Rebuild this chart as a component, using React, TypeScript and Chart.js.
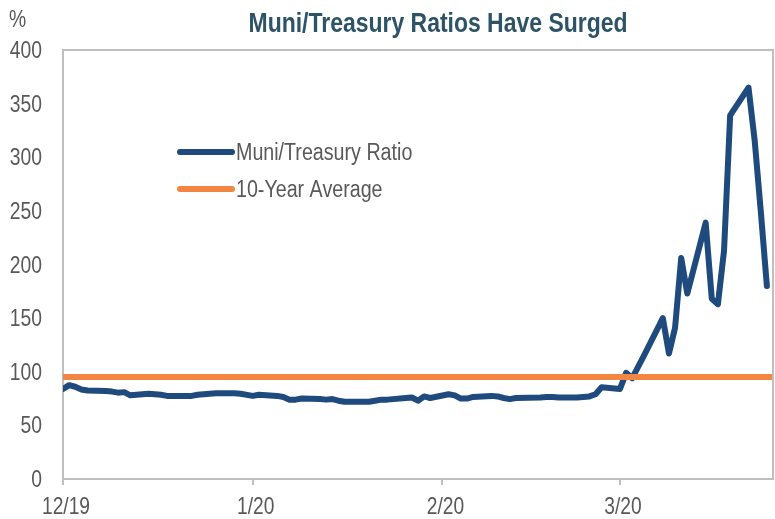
import React, { useEffect, useRef } from "react";
import { Chart, registerables } from "chart.js";

Chart.register(...registerables);

const title = "Muni/Treasury Ratios Have Surged";
const yUnit = "%";
const seriesLabel = "Muni/Treasury Ratio";
const averageLabel = "10-Year Average";

// day offsets (business days, starting at the first observation, Dec 2019)
const dayOffsets = [
  0, 1, 2, 3, 4, 7, 8, 9, 10, 11, 14, 15, 16, 17, 18, 21, 22, 24, 25, 28, 29,
  31, 32, 35, 36, 37, 38, 39, 42, 43, 44, 45, 46, 50, 51, 52, 53, 56, 57, 58, 59, 60,
  63, 64, 65, 66, 67, 70, 71, 72, 73, 74, 78, 79, 80, 81, 84, 85, 86, 87, 88,
  91, 92, 93, 94, 95, 98, 99, 100, 101, 102, 105, 106, 107, 108, 109, 112, 113, 114, 115,
];

const ratioValues = [
  84, 87.5, 86, 83.5, 82.5, 82, 81.5, 80.5, 81, 78, 79.5, 79, 78.5, 77.5, 77.5, 77.5, 78.5, 79.5, 80, 80, 79.5,
  77.5, 78.5, 77.5, 76.5, 74, 74, 75, 74.5, 74, 74.5, 73, 72, 72, 73, 74, 74, 75.5, 76, 73, 77, 75.5,
  79, 78, 75, 75, 76.5, 77.5, 77, 75.5, 74.5, 75.5, 76, 76.5, 76.5, 76, 76, 76.5, 77, 79, 85.5,
  84, 99, 94, 105, 116, 150, 117, 141, 206, 173, 239, 168, 163, 213, 339, 365, 316, 250, 180,
];

const averageValue = 95;

const xMin = 0;
const xMax = 116;
const tickDays = [0, 31, 62, 91];
const tickLabels = ["12/19", "1/20", "2/20", "3/20"];

const yMin = 0;
const yMax = 400;
const yStep = 50;

const FONT = "'Liberation Sans', Arial, sans-serif";
const TEXT = "#595959";
const BLUE = "#1F4A7E";
const ORANGE = "#F38642";
const BORDER = "#BFBFBF";
const NARROW = 0.84;

function drawText(
  ctx: CanvasRenderingContext2D,
  text: string,
  x: number,
  y: number,
  font: string,
  color: string,
  align: CanvasTextAlign,
  sx: number
) {
  ctx.save();
  ctx.translate(x, y);
  ctx.scale(sx, 1);
  ctx.font = font;
  ctx.fillStyle = color;
  ctx.textAlign = align;
  ctx.textBaseline = "alphabetic";
  ctx.fillText(text, 0, 0);
  ctx.restore();
}

const decorPlugin = {
  id: "decor",
  afterDraw(chart: any) {
    const { ctx, chartArea } = chart;
    ctx.save();
    // plot frame (top and right sides)
    ctx.strokeStyle = BORDER;
    ctx.lineWidth = 2;
    ctx.beginPath();
    ctx.moveTo(chartArea.left, chartArea.top);
    ctx.lineTo(chartArea.right, chartArea.top);
    ctx.lineTo(chartArea.right, chartArea.bottom);
    ctx.stroke();

    // title
    drawText(ctx, title, 438, 32, `bold 28px ${FONT}`, "#2D5367", "center", 0.82);

    // unit
    drawText(ctx, yUnit, 9, 27, `23px ${FONT}`, TEXT, "left", NARROW);

    // y tick labels
    const ys = chart.scales.y;
    ys.ticks.forEach((t: any) => {
      const py = ys.getPixelForValue(t.value);
      drawText(ctx, String(t.value), 42, py + 8, `23px ${FONT}`, TEXT, "right", NARROW);
    });

    // x tick labels
    const xs = chart.scales.x;
    tickDays.forEach((d, i) => {
      const px = xs.getPixelForValue(d);
      drawText(ctx, tickLabels[i], px + 3, 514, `24px ${FONT}`, TEXT, "center", 0.8);
    });

    // legend
    const items = chart.data.datasets.map((d: any) => ({ label: d.label, color: d.borderColor }));
    const lx = 180;
    const ly = [152, 189];
    items.forEach((it: any, i: number) => {
      ctx.strokeStyle = it.color;
      ctx.lineWidth = 6;
      ctx.lineCap = "round";
      ctx.beginPath();
      ctx.moveTo(lx, ly[i]);
      ctx.lineTo(lx + 52, ly[i]);
      ctx.stroke();
      drawText(ctx, it.label, lx + 56, ly[i] + 8, `23px ${FONT}`, TEXT, "left", 0.855);
    });
    ctx.restore();
  },
};

export default function App() {
  const ref = useRef<HTMLCanvasElement | null>(null);

  useEffect(() => {
    if (!ref.current) return;
    const ratioData = dayOffsets.map((d, i) => ({ x: d, y: ratioValues[i] }));
    const averageData = [
      { x: xMin, y: averageValue },
      { x: xMax, y: averageValue },
    ];
    const chart = new Chart(ref.current, {
      type: "line",
      data: {
        datasets: [
          {
            label: seriesLabel,
            data: ratioData,
            borderColor: BLUE,
            borderWidth: 6,
            pointRadius: 0,
            tension: 0,
            borderJoinStyle: "round",
            borderCapStyle: "round",
            order: 1,
          },
          {
            label: averageLabel,
            data: averageData,
            borderColor: ORANGE,
            borderWidth: 6,
            pointRadius: 0,
            borderCapStyle: "round",
            order: 0,
          },
        ],
      },
      options: {
        animation: false,
        responsive: false,
        devicePixelRatio: 1,
        layout: { padding: { top: 50, right: 2, left: 0, bottom: 0 } },
        plugins: {
          legend: { display: false },
          title: { display: false },
          tooltip: { enabled: false },
        },
        scales: {
          x: {
            type: "linear",
            min: xMin,
            max: xMax,
            afterBuildTicks: (axis: any) => {
              axis.ticks = tickDays.map((v) => ({ value: v }));
            },
            afterFit: (axis: any) => {
              axis.height = 40;
            },
            ticks: { display: false, autoSkip: false },
            grid: {
              drawOnChartArea: false,
              drawTicks: true,
              tickLength: 6,
              color: BORDER,
              lineWidth: 2,
            },
            border: { color: BORDER, width: 2 },
          },
          y: {
            min: yMin,
            max: yMax,
            afterFit: (axis: any) => {
              axis.width = 63;
            },
            ticks: { display: false, stepSize: yStep },
            grid: { display: false, drawTicks: false },
            border: { color: BORDER, width: 2 },
          },
        },
      },
      plugins: [decorPlugin],
    });
    return () => chart.destroy();
  }, []);

  return (
    <div style={{ position: "absolute", left: 0, top: 0, width: 775, height: 519, background: "#fff" }}>
      <canvas ref={ref} width={775} height={519} style={{ width: 775, height: 519, display: "block" }} />
    </div>
  );
}
